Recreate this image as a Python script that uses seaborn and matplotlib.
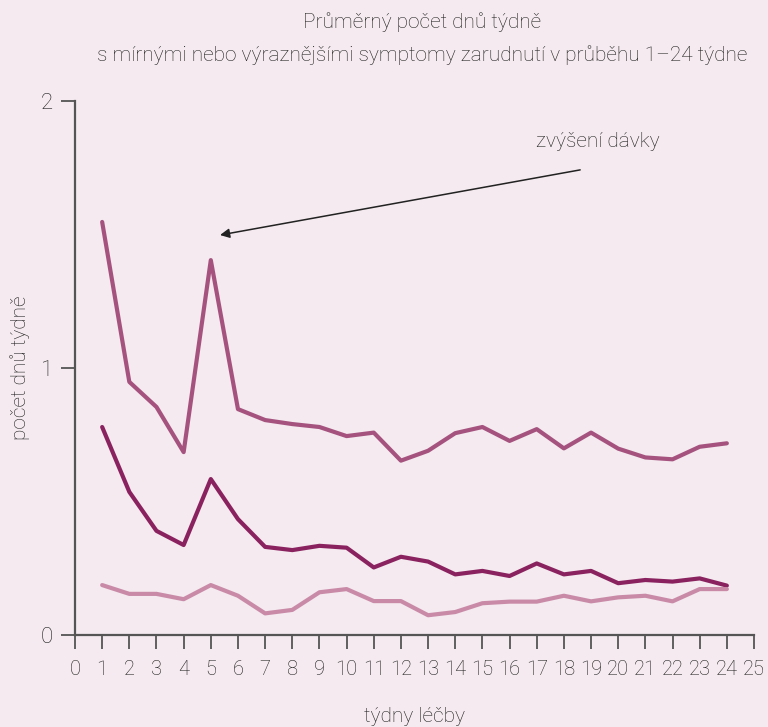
import matplotlib
matplotlib.use("Agg")
import matplotlib.pyplot as plt
import seaborn as sns
import pandas as pd

weeks = list(range(1, 25))
series_high = [1.547, 0.948, 0.854, 0.685, 1.404, 0.846, 0.805, 0.790, 0.779, 0.745, 0.758, 0.653,
               0.690, 0.756, 0.779, 0.727, 0.771, 0.699, 0.758, 0.698, 0.665, 0.658, 0.705, 0.718]
series_mid = [0.779, 0.536, 0.390, 0.337, 0.584, 0.434, 0.330, 0.318, 0.334, 0.327, 0.253, 0.293,
              0.275, 0.227, 0.240, 0.221, 0.268, 0.227, 0.240, 0.194, 0.206, 0.200, 0.212, 0.185]
series_low = [0.187, 0.154, 0.154, 0.134, 0.187, 0.147, 0.081, 0.094, 0.160, 0.172, 0.127, 0.127,
              0.074, 0.086, 0.119, 0.125, 0.125, 0.147, 0.126, 0.141, 0.147, 0.126, 0.172, 0.172]
series_names = ["high", "mid", "low"]
x_ticks = list(range(0, 26))
y_ticks = [0, 1, 2]

title_line1 = "Průměrný počet dnů týdně"
title_line2 = "s mírnými nebo výraznějšími symptomy zarudnutí v průběhu 1–24 týdne"
xlabel = "týdny léčby"
ylabel = "počet dnů týdně"
annot_text = "zvýšení dávky"

bg = "#f4eaef"
palette = {"high": "#a5527f", "mid": "#8a2260", "low": "#c98aa8"}
text_color = "#1e1e1e"

sns.set_style("ticks", {"axes.facecolor": bg, "figure.facecolor": bg,
                        "axes.edgecolor": "#555555"})
plt.rcParams["font.family"] = ["Roboto", "DejaVu Sans"]
plt.rcParams["font.weight"] = "light"

df = pd.DataFrame({
    "week": weeks * 3,
    "value": series_high + series_mid + series_low,
    "series": [n for n, s in zip(series_names, [series_high, series_mid, series_low]) for _ in s],
})

W, H = 768, 727
fig = plt.figure(figsize=(W / 100, H / 100), dpi=100)
ax = fig.add_axes([75 / W, 1 - 635 / H, (754 - 75) / W, (635 - 101) / H])
sns.lineplot(data=df, x="week", y="value", hue="series", palette=palette,
             linewidth=3.0, legend=False, ax=ax)

ax.set_xlim(0, 25)
ax.set_ylim(0, 2)
ax.set_xticks(x_ticks)
ax.set_yticks(y_ticks)
ax.tick_params(axis="x", direction="out", length=10, width=1.3, colors="#555555",
               labelcolor=text_color, labelsize=14.5, pad=8)
ax.tick_params(axis="y", direction="out", length=10, width=1.3, colors="#555555",
               labelcolor=text_color, labelsize=16, pad=6)
sns.despine(ax=ax)
ax.spines["left"].set_linewidth(1.6)
ax.spines["bottom"].set_linewidth(1.6)
ax.set_xlabel("")
ax.set_ylabel("")

def ft(xp, yp, s, **kw):
    fig.text(xp / W, 1 - yp / H, s, color=text_color, ha="center", va="center", **kw)

ft(422, 22, title_line1, fontsize=15)
ft(422, 55, title_line2, fontsize=15)
ft(415, 716, xlabel, fontsize=15)
ft(20, 368, ylabel, fontsize=15, rotation=90)

ax.annotate("", xy=(5.34, 1.498), xytext=(18.6, 1.742),
            arrowprops=dict(arrowstyle="-|>", color="#222222", lw=1.1,
                            mutation_scale=14, shrinkA=0, shrinkB=0))
ax.text(19.26, 1.85, annot_text, fontsize=15, color=text_color, ha="center", va="center")

fig.savefig("out.png", dpi=100, facecolor=bg)
